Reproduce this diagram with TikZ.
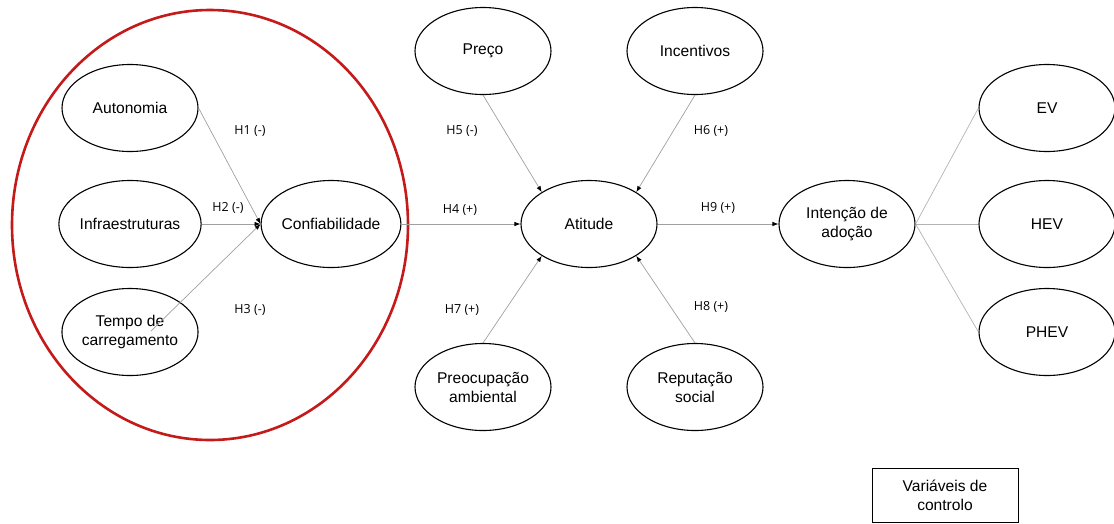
\documentclass[tikz,border=0pt]{standalone}
\usepackage{fontspec}
\setmainfont{Liberation Sans}
\newfontfamily\hypfont{Open Sans}
\usetikzlibrary{shapes.geometric,arrows.meta}
\definecolor{groupred}{RGB}{196,26,26}
\definecolor{linkgray}{RGB}{160,160,160}

\begin{document}
\begin{tikzpicture}[x=1pt,y=-1pt,
  construct/.style={ellipse,draw=black,line width=1.1pt,minimum width=136pt,
    minimum height=87pt,inner sep=0pt,align=center,
    font=\fontsize{15.6}{19}\selectfont},
  link/.style={draw=linkgray,line width=0.7pt,
    -{Latex[length=6pt,width=4.5pt,color=black]}},
  plainlink/.style={draw=linkgray!80,line width=0.7pt},
  hyp/.style={font=\hypfont\fontsize{12.5}{14}\selectfont,inner sep=0pt}]

\useasboundingbox (0,0) rectangle (1114,523);

% reliability block
\node[draw=groupred,line width=2.6pt,ellipse,minimum width=396pt,
  minimum height=430pt,inner sep=0pt] (group) at (210,225) {};

\node[construct] (auto)  at (130,108) {Autonomia};
\node[construct] (infra) at (130,224) {Infraestruturas};
\node[construct] (tempo) at (130,332) {Tempo de\\carregamento};
\node[construct] (conf)  at (331,224) {Confiabilidade};

% central constructs
\node[construct] (preco) at (483,51)  {Preço};
\node[construct] (incen) at (695,51)  {Incentivos};
\node[construct] (atit)  at (589,224) {Atitude};
\node[construct] (preoc) at (483,387) {Preocupação\\ambiental};
\node[construct] (reput) at (695,387) {Reputação\\social};
\node[construct] (inten) at (847,224) {Intenção de\\adoção};

% vehicle types
\node[construct] (ev)   at (1047,108) {EV};
\node[construct] (hev)  at (1047,224) {HEV};
\node[construct] (phev) at (1047,332) {PHEV};

% control variables
\node[draw=black,line width=0.9pt,minimum width=146pt,minimum height=54pt,
  inner sep=0pt,align=center,font=\fontsize{15.6}{19}\selectfont]
  (ctrl) at (945,495) {Variáveis de\\controlo};

% hypotheses
\coordinate (tstart) at (151,331);
\draw[link] (auto.east) -- (conf.west);
\draw[link] (infra.east) -- (conf.west);
\draw[link] (tstart) -- (conf.west);
\draw[link] (conf.east) -- (atit.west);
\draw[link] (preco.south) -- (atit.146);
\draw[link] (incen.south) -- (atit.34);
\draw[link] (preoc.north) -- (atit.214);
\draw[link] (reput.north) -- (atit.326);
\draw[link] (atit.east) -- (inten.west);
\draw[plainlink] (inten.east) -- (ev.west);
\draw[plainlink] (inten.east) -- (hev.west);
\draw[plainlink] (inten.east) -- (phev.west);

\node[hyp] (h1) at (250,131) {H1 (-)};
\node[hyp] (h2) at (228,208) {H2 (-)};
\node[hyp] (h3) at (250,310) {H3 (-)};
\node[hyp] (h4) at (460,210) {H4 (+)};
\node[hyp] (h5) at (462,131) {H5 (-)};
\node[hyp] (h6) at (711,131) {H6 (+)};
\node[hyp] (h7) at (462,310) {H7 (+)};
\node[hyp] (h8) at (711,307) {H8 (+)};
\node[hyp] (h9) at (718,208) {H9 (+)};
\end{tikzpicture}
\end{document}
